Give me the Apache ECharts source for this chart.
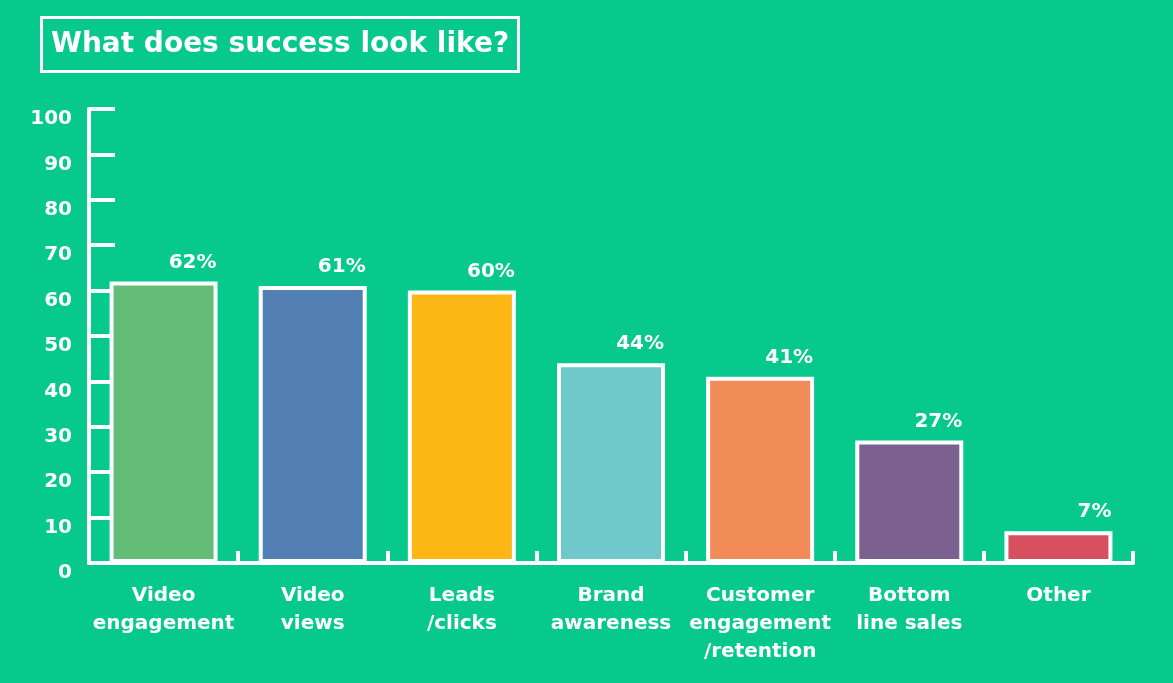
<!DOCTYPE html>
<html>
<head>
<meta charset="utf-8">
<script src="https://cdn.jsdelivr.net/npm/echarts@6/dist/echarts.min.js"></script>
<style>
html,body{margin:0;padding:0;background:#06C98B;}
#c{width:1173px;height:683px;}
</style>
</head>
<body>
<div id="c"></div>
<script>
const categories = ['Video\nengagement', 'Video\nviews', 'Leads\n/clicks', 'Brand\nawareness', 'Customer\nengagement\n/retention', 'Bottom\nline sales', 'Other'];
const values = [62, 61, 60, 44, 41, 27, 7];
const barColors = ['#63BD77', '#5280B5', '#FDB714', '#6FC8C9', '#F18B58', '#7C6190', '#D84F60'];
const yTicks = [0, 10, 20, 30, 40, 50, 60, 70, 80, 90, 100];

const FONT = '"DejaVu Sans", sans-serif';
const chart = echarts.init(document.getElementById('c'));
chart.setOption({
  backgroundColor: '#06C98B',
  animation: false,
  title: {
    text: 'What does success look like?',
    left: 41, top: 17,
    padding: [14, 10, 13, 10],
    borderColor: '#fff', borderWidth: 3,
    textStyle: { color: '#fff', fontFamily: FONT, fontWeight: 'bold', fontSize: 28 }
  },
  grid: { left: 89, right: 40, top: 109, bottom: 120 },
  xAxis: {
    type: 'category',
    data: categories,
    z: 5,
    axisLine: { lineStyle: { color: '#fff', width: 4 } },
    axisTick: { show: true, inside: true, length: 12, lineStyle: { color: '#fff', width: 4 } },
    axisLabel: { color: '#fff', fontFamily: FONT, fontWeight: 'bold', fontSize: 20, lineHeight: 28, margin: 19, interval: 0 }
  },
  yAxis: {
    type: 'value', min: 0, max: 100, interval: 10,
    axisLine: { show: true, lineStyle: { color: '#fff', width: 4 } },
    axisTick: { show: true, inside: true, length: 26, lineStyle: { color: '#fff', width: 4 } },
    splitLine: { show: false },
    axisLabel: {
      color: '#fff', fontFamily: FONT, fontWeight: 'bold', fontSize: 20, margin: 17,
      verticalAlign: 'top',
      formatter: v => yTicks.includes(v) ? String(v) : ''
    }
  },
  series: [{
    type: 'bar',
    barWidth: 108,
    data: values.map((v, i) => ({ value: v, itemStyle: { color: barColors[i] } })),
    itemStyle: { borderColor: '#fff', borderWidth: 4 },
    label: {
      show: true,
      position: ['100%', 0],
      align: 'right', verticalAlign: 'bottom',
      offset: [-1, -9],
      color: '#fff', fontFamily: FONT, fontWeight: 'bold', fontSize: 20,
      formatter: p => p.value + '%'
    }
  }]
});
</script>
</body>
</html>
